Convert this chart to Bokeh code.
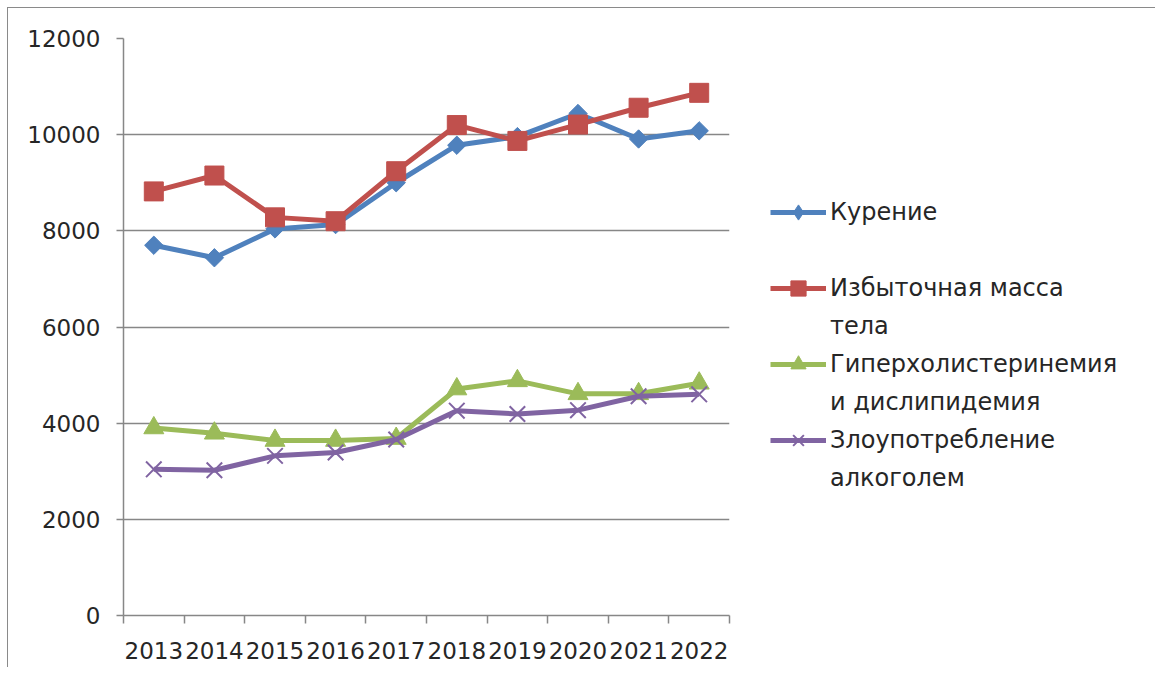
from bokeh.plotting import figure
from bokeh.models import FixedTicker, Legend, LegendItem
from bokeh.embed import file_html
from bokeh.resources import INLINE
import math

years = ["2013", "2014", "2015", "2016", "2017", "2018", "2019", "2020", "2021", "2022"]
smoking = [7700, 7440, 8040, 8130, 9000, 9780, 9960, 10440, 9910, 10080]
overweight = [8820, 9150, 8280, 8200, 9240, 10200, 9870, 10210, 10560, 10870]
hyperchol = [3900, 3790, 3640, 3640, 3680, 4710, 4880, 4610, 4610, 4830]
alcohol = [3040, 3020, 3320, 3390, 3660, 4260, 4190, 4270, 4560, 4600]

legend_lines = [["Курение", ""], ["Избыточная масса", "тела"],
                ["Гиперхолистеринемия", "и дислипидемия"], ["Злоупотребление", "алкоголем"]]
colors = ["#4F81BD", "#C0504D", "#9BBB59", "#8064A2"]
y_ticks = [0, 2000, 4000, 6000, 8000, 10000, 12000]

FONT = "DejaVu Sans"
GRID = "#878787"
TEXT = "#262626"

xs = [i + 0.5 for i in range(len(years))]

p = figure(frame_width=606, frame_height=577, x_range=(0, len(years)), y_range=(0, 12000),
           output_backend="svg", toolbar_location=None,
           min_border_left=115, min_border_top=30, min_border_right=418, min_border_bottom=52)
p.styles = {"border-left": "1px solid #8a8a8a", "border-top": "1px solid #8a8a8a",
            "margin": "7px 0 0 7px"}
p.outline_line_color = None
p.xgrid.grid_line_color = None
p.ygrid.grid_line_color = GRID
p.ygrid.grid_line_width = 1.5

p.yaxis.ticker = FixedTicker(ticks=y_ticks)
p.yaxis.axis_line_color = GRID
p.yaxis.axis_line_width = 1.5
p.yaxis.major_tick_line_color = GRID
p.yaxis.major_tick_line_width = 1.5
p.yaxis.major_tick_out = 7
p.yaxis.major_tick_in = 0
p.yaxis.minor_tick_line_color = None
p.yaxis.major_label_standoff = 16
p.yaxis.major_label_text_font = FONT
p.yaxis.major_label_text_font_size = "23px"
p.yaxis.major_label_text_color = TEXT

p.xaxis.ticker = FixedTicker(ticks=xs, minor_ticks=list(range(len(years) + 1)))
p.xaxis.major_label_overrides = {x: y for x, y in zip(xs, years)}
p.xaxis.axis_line_color = GRID
p.xaxis.axis_line_width = 1.5
p.xaxis.major_tick_line_color = None
p.xaxis.minor_tick_line_color = GRID
p.xaxis.minor_tick_line_width = 1.5
p.xaxis.minor_tick_out = 8
p.xaxis.minor_tick_in = 0
p.xaxis.major_label_standoff = 18
p.xaxis.major_label_text_font = FONT
p.xaxis.major_label_text_font_size = "23px"
p.xaxis.major_label_text_color = TEXT

series = [smoking, overweight, hyperchol, alcohol]
items = []
for k, (vals, col) in enumerate(zip(series, colors)):
    lr = p.line(xs, vals, line_color=col, line_width=5, line_join="round")
    if k == 0:
        sr = p.scatter(xs, vals, marker="square", angle=math.pi / 4, size=13,
                       fill_color=col, line_color=col)
        leg_r = p.scatter(xs, vals, marker="diamond", size=20,
                          fill_color=col, line_color=col, visible=False)
        rends = [lr, leg_r]
    elif k == 1:
        sr = p.scatter(xs, vals, marker="square", size=19, fill_color=col, line_color=col)
        rends = [lr, sr]
    elif k == 2:
        sr = p.scatter(xs, vals, marker="triangle", size=20, fill_color=col, line_color=col)
        rends = [lr, sr]
    else:
        sr = p.scatter(xs, vals, marker="x", size=22, line_color=col, line_width=2)
        rends = [lr, sr]
    first, second = legend_lines[k]
    items.append(LegendItem(label=first, renderers=rends))
    items.append(LegendItem(label=second, renderers=[]))

legend = Legend(items=items, location=(41, 118))
legend.padding = 0
legend.margin = 0
legend.border_line_color = None
legend.background_fill_alpha = 0
legend.glyph_width = 56
legend.glyph_height = 38
legend.label_height = 38
legend.spacing = 0
legend.label_standoff = 4
legend.label_text_font = FONT
legend.label_text_font_size = "24px"
legend.label_text_color = TEXT
p.add_layout(legend, "right")

open("out.html", "w").write(file_html(p, INLINE))
